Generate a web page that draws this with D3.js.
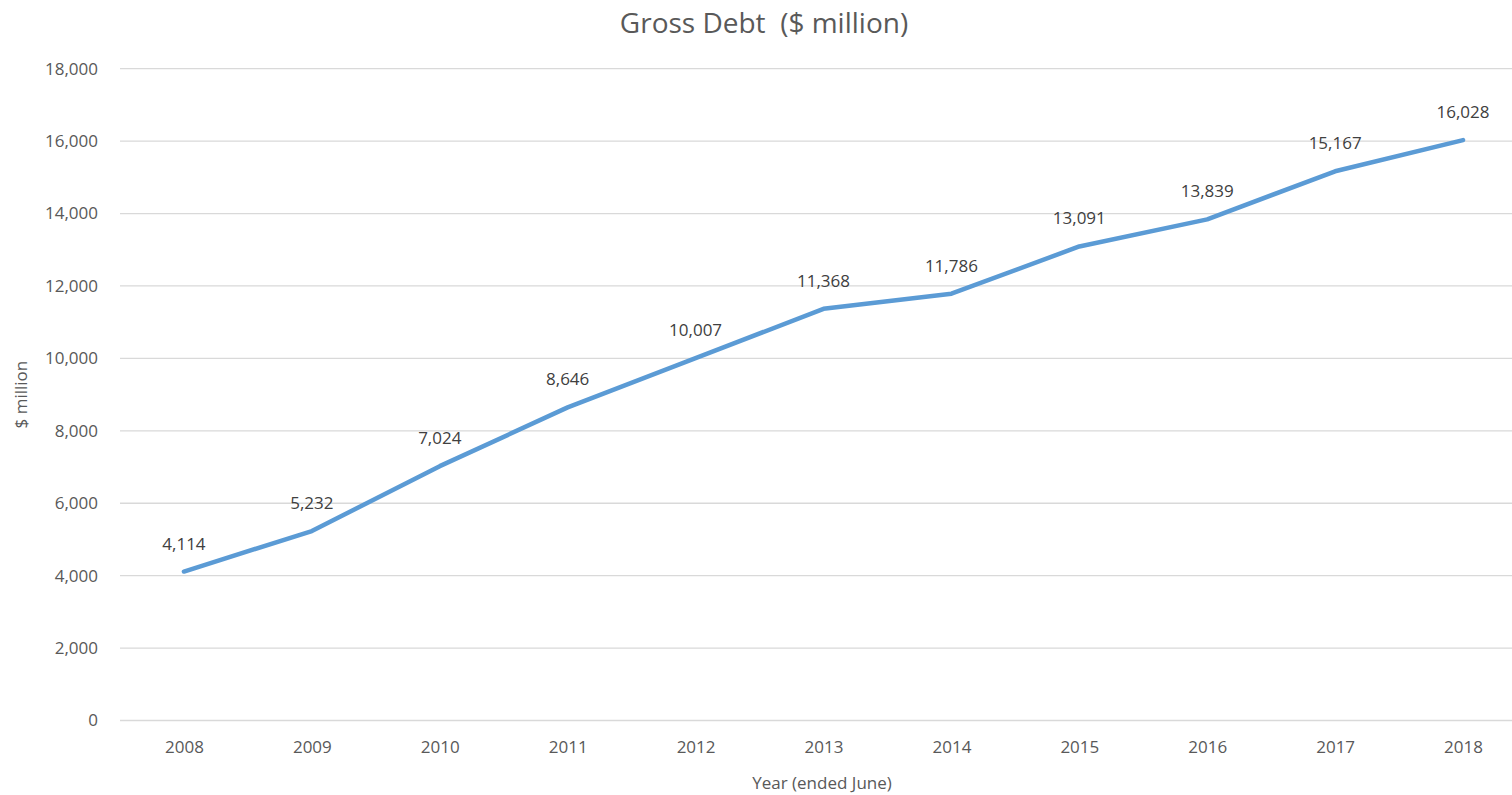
<!DOCTYPE html>
<html>
<head>
<meta charset="utf-8">
<script src="https://cdn.jsdelivr.net/npm/d3@7"></script>
<style>
  body { margin: 0; background: #fff; }
  svg { display: block; font-family: "Open Sans", "Noto Sans", sans-serif; }
</style>
</head>
<body>
<svg id="chart" width="1512" height="795"></svg>
<script>
// data
const years = ["2008", "2009", "2010", "2011", "2012", "2013", "2014", "2015", "2016", "2017", "2018"]
const grossDebt = [4114, 5232, 7024, 8646, 10007, 11368, 11786, 13091, 13839, 15167, 16028]
const yTicks = [0, 2000, 4000, 6000, 8000, 10000, 12000, 14000, 16000, 18000]

const width = 1512, height = 795
const margin = { left: 120, right: -15, top: 68.7, bottom: 74.5 }
const textColor = "#595959"
const fontSize = "17px"

const svg = d3.select("#chart")

// scales
const x = d3.scalePoint()
    .domain(years)
    .range([margin.left, width - margin.right])
    .padding(0.5)

const y = d3.scaleLinear()
    .domain([0, 18000])
    .range([height - margin.bottom, margin.top])

// gridlines
svg.append("g")
    .selectAll("line")
    .data(yTicks)
    .enter()
    .append("line")
        .attr("x1", margin.left)
        .attr("x2", width - margin.right)
        .attr("y1", d => y(d))
        .attr("y2", d => y(d))
        .attr("stroke", "#d9d9d9")
        .attr("stroke-width", 1.3)

// y axis labels
const yAxis = svg.append("g")
    .attr("transform", "translate(" + (margin.left - 19) + ",0)")
    .call(d3.axisLeft(y).tickValues(yTicks).tickFormat(d3.format(",")).tickSize(0))
yAxis.select(".domain").remove()
yAxis.selectAll("text")
    .attr("fill", textColor)
    .style("font-size", fontSize)
    .style("font-family", "'Open Sans', sans-serif")

// x axis labels
const xAxis = svg.append("g")
    .attr("transform", "translate(0," + (height - margin.bottom + 17) + ")")
    .call(d3.axisBottom(x).tickSize(0))
xAxis.select(".domain").remove()
xAxis.selectAll("text")
    .attr("fill", textColor)
    .style("font-size", fontSize)
    .style("font-family", "'Open Sans', sans-serif")

// line
const line = d3.line()
    .x((d, i) => x(years[i]))
    .y(d => y(d))

svg.append("path")
    .datum(grossDebt)
    .attr("d", line)
    .attr("fill", "none")
    .attr("stroke", "#5b9bd5")
    .attr("stroke-width", 4.5)
    .attr("stroke-linecap", "round")
    .attr("stroke-linejoin", "round")

// data labels
svg.append("g")
    .selectAll("text")
    .data(grossDebt)
    .enter()
    .append("text")
        .attr("x", (d, i) => x(years[i]))
        .attr("y", d => y(d) - 22)
        .attr("text-anchor", "middle")
        .attr("fill", "#404040")
        .style("font-size", fontSize)
        .text(d => d3.format(",")(d))

// title
svg.append("text")
    .attr("x", 764)
    .attr("y", 33)
    .attr("text-anchor", "middle")
    .attr("fill", textColor)
    .style("font-size", "28px")
    .style("white-space", "pre")
    .text("Gross Debt  ($ million)")

// axis titles
svg.append("text")
    .attr("x", 822)
    .attr("y", 789)
    .attr("text-anchor", "middle")
    .attr("fill", textColor)
    .style("font-size", fontSize)
    .text("Year (ended June)")

svg.append("text")
    .attr("transform", "translate(27," + ((y(0) + y(18000)) / 2) + ") rotate(-90)")
    .attr("text-anchor", "middle")
    .attr("fill", textColor)
    .style("font-size", fontSize)
    .text("$ million")
</script>
</body>
</html>
